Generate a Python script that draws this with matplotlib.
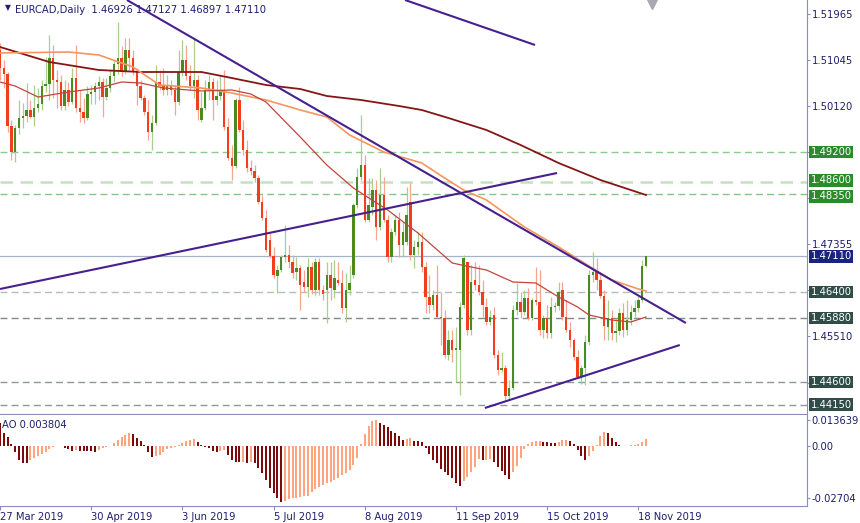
import numpy as np
import matplotlib
matplotlib.use("Agg")
import matplotlib.pyplot as plt


# ============================================================
# 1.  Data
# ============================================================
title_text = "EURCAD,Daily  1.46926 1.47127 1.46897 1.47110"
ao_text    = "AO 0.003804"

date_labels     = ["27 Mar 2019", "30 Apr 2019", "3 Jun 2019", "5 Jul 2019",
                   "8 Aug 2019", "11 Sep 2019", "15 Oct 2019", "18 Nov 2019"]
date_label_bars = [0, 24, 48, 72, 96, 120, 144, 168]

opens = [
    1.5124, 1.5088, 1.5076, 1.4972, 1.4920, 1.4968, 1.4988, 1.4992, 1.5004, 1.4990,
    1.5008, 1.5016, 1.5052, 1.5056, 1.5108, 1.5064, 1.5060, 1.5012, 1.5044, 1.5020,
    1.5068, 1.5008, 1.5000, 1.4988, 1.5036, 1.5040, 1.5052, 1.5060, 1.5030, 1.5048,
    1.5072, 1.5096, 1.5108, 1.5080, 1.5124, 1.5108, 1.5080, 1.5052, 1.5028, 1.5000,
    1.4960, 1.4978, 1.5060, 1.5052, 1.5044, 1.5052, 1.5044, 1.5020, 1.5080, 1.5104,
    1.5072, 1.5052, 1.5064, 1.4984, 1.5008, 1.5044, 1.5060, 1.5024, 1.5032, 1.5044,
    1.4970, 1.4908, 1.4892, 1.5024, 1.4964, 1.4924, 1.4888, 1.4882, 1.4868, 1.4820,
    1.4788, 1.4744, 1.4712, 1.4672, 1.4684, 1.4710, 1.4714, 1.4700, 1.4680, 1.4688,
    1.4660, 1.4650, 1.4690, 1.4644, 1.4700, 1.4644, 1.4644, 1.4674, 1.4644, 1.4664,
    1.4658, 1.4608, 1.4644, 1.4674, 1.4814, 1.4870, 1.4894, 1.4784, 1.4810, 1.4844,
    1.4770, 1.4834, 1.4784, 1.4710, 1.4760, 1.4784, 1.4734, 1.4740, 1.4820, 1.4714,
    1.4730, 1.4740, 1.4690, 1.4630, 1.4614, 1.4634, 1.4590, 1.4588, 1.4514, 1.4544,
    1.4524, 1.4524, 1.4614, 1.4700, 1.4564, 1.4664, 1.4654, 1.4640, 1.4610, 1.4580,
    1.4594, 1.4514, 1.4484, 1.4488, 1.4432, 1.4448, 1.4604, 1.4620, 1.4600, 1.4628,
    1.4588, 1.4624, 1.4620, 1.4564, 1.4588, 1.4558, 1.4610, 1.4612, 1.4644, 1.4590,
    1.4564, 1.4544, 1.4510, 1.4470, 1.4488, 1.4540, 1.4674, 1.4680, 1.4664, 1.4632,
    1.4570, 1.4588, 1.4558, 1.4562, 1.4598, 1.4564, 1.4584, 1.4600, 1.4608, 1.4624,
    1.46926,
]
highs = [
    1.5138, 1.5104, 1.5080, 1.4984, 1.4974, 1.5024, 1.5018, 1.5058, 1.5024, 1.5054,
    1.5048, 1.5064, 1.5110, 1.5154, 1.5134, 1.5084, 1.5074, 1.5064, 1.5060, 1.5088,
    1.5134, 1.5044, 1.5028, 1.5052, 1.5054, 1.5060, 1.5072, 1.5068, 1.5068, 1.5084,
    1.5104, 1.5180, 1.5132, 1.5148, 1.5148, 1.5124, 1.5088, 1.5064, 1.5034, 1.5024,
    1.4994, 1.5094, 1.5084, 1.5088, 1.5074, 1.5064, 1.5054, 1.5124, 1.5144, 1.5134,
    1.5094, 1.5148, 1.5074, 1.5040, 1.5064, 1.5074, 1.5068, 1.5064, 1.5074, 1.5084,
    1.4988, 1.4934, 1.5028, 1.5050, 1.4984, 1.4944, 1.4904, 1.4894, 1.4874, 1.4834,
    1.4804, 1.4758, 1.4730, 1.4694, 1.4714, 1.4774, 1.4734, 1.4714, 1.4710, 1.4694,
    1.4684, 1.4708, 1.4700, 1.4708, 1.4708, 1.4654, 1.4700, 1.4700, 1.4704, 1.4700,
    1.4684, 1.4678, 1.4694, 1.4818, 1.4888, 1.4994, 1.4914, 1.4868, 1.4868, 1.4864,
    1.4888, 1.4870, 1.4794, 1.4768, 1.4794, 1.4800, 1.4780, 1.4850, 1.4858, 1.4744,
    1.4760, 1.4760, 1.4700, 1.4674, 1.4644, 1.4694, 1.4640, 1.4604, 1.4564, 1.4564,
    1.4570, 1.4620, 1.4714, 1.4700, 1.4694, 1.4700, 1.4694, 1.4664, 1.4628, 1.4604,
    1.4610, 1.4524, 1.4520, 1.4494, 1.4464, 1.4614, 1.4658, 1.4640, 1.4644, 1.4648,
    1.4628, 1.4690, 1.4684, 1.4594, 1.4614, 1.4630, 1.4620, 1.4660, 1.4660, 1.4624,
    1.4580, 1.4548, 1.4524, 1.4494, 1.4554, 1.4684, 1.4720, 1.4708, 1.4680, 1.4644,
    1.4624, 1.4604, 1.4588, 1.4608, 1.4618, 1.4624, 1.4614, 1.4624, 1.4632, 1.4704,
    1.47127,
]
lows = [
    1.5064, 1.5048, 1.4960, 1.4904, 1.4900, 1.4956, 1.4968, 1.4980, 1.4988, 1.4972,
    1.5000, 1.5004, 1.5040, 1.5024, 1.5028, 1.5008, 1.5004, 1.5004, 1.5012, 1.5016,
    1.5000, 1.4980, 1.4978, 1.4984, 1.5016, 1.5016, 1.5024, 1.4990, 1.5024, 1.5040,
    1.5060, 1.5076, 1.5072, 1.5076, 1.5084, 1.5074, 1.5014, 1.5024, 1.4994, 1.4944,
    1.4924, 1.4974, 1.5044, 1.5034, 1.5034, 1.5034, 1.4994, 1.5014, 1.5072, 1.5064,
    1.5044, 1.5028, 1.4984, 1.4980, 1.5004, 1.5024, 1.4984, 1.5014, 1.5024, 1.4964,
    1.4904, 1.4864, 1.4888, 1.4960, 1.4914, 1.4880, 1.4874, 1.4860, 1.4816, 1.4784,
    1.4720, 1.4708, 1.4668, 1.4638, 1.4680, 1.4700, 1.4688, 1.4668, 1.4664, 1.4604,
    1.4640, 1.4630, 1.4636, 1.4634, 1.4634, 1.4624, 1.4578, 1.4624, 1.4628, 1.4654,
    1.4598, 1.4580, 1.4634, 1.4668, 1.4808, 1.4864, 1.4780, 1.4780, 1.4794, 1.4744,
    1.4764, 1.4780, 1.4700, 1.4700, 1.4754, 1.4710, 1.4710, 1.4734, 1.4704, 1.4688,
    1.4714, 1.4680, 1.4598, 1.4598, 1.4604, 1.4588, 1.4534, 1.4508, 1.4504, 1.4500,
    1.4460, 1.4434, 1.4608, 1.4554, 1.4554, 1.4644, 1.4634, 1.4590, 1.4574, 1.4574,
    1.4508, 1.4474, 1.4480, 1.4424, 1.4424, 1.4444, 1.4594, 1.4588, 1.4594, 1.4584,
    1.4584, 1.4614, 1.4554, 1.4548, 1.4548, 1.4548, 1.4600, 1.4604, 1.4584, 1.4560,
    1.4530, 1.4504, 1.4468, 1.4456, 1.4454, 1.4534, 1.4660, 1.4644, 1.4628, 1.4544,
    1.4544, 1.4544, 1.4540, 1.4554, 1.4550, 1.4554, 1.4574, 1.4588, 1.4600, 1.4620,
    1.46897,
]
closes = [
    1.5088, 1.5076, 1.4972, 1.4920, 1.4968, 1.4988, 1.4992, 1.5004, 1.4990, 1.5008,
    1.5016, 1.5052, 1.5056, 1.5108, 1.5064, 1.5060, 1.5012, 1.5044, 1.5020, 1.5068,
    1.5008, 1.5000, 1.4988, 1.5036, 1.5040, 1.5052, 1.5060, 1.5030, 1.5048, 1.5072,
    1.5096, 1.5108, 1.5080, 1.5124, 1.5108, 1.5080, 1.5052, 1.5028, 1.5000, 1.4960,
    1.4978, 1.5060, 1.5052, 1.5044, 1.5052, 1.5044, 1.5020, 1.5080, 1.5104, 1.5072,
    1.5052, 1.5064, 1.5004, 1.5008, 1.5044, 1.5060, 1.5024, 1.5032, 1.5044, 1.4970,
    1.4908, 1.4892, 1.5024, 1.4964, 1.4924, 1.4888, 1.4882, 1.4868, 1.4820, 1.4788,
    1.4724, 1.4712, 1.4674, 1.4684, 1.4710, 1.4714, 1.4700, 1.4678, 1.4688, 1.4654,
    1.4650, 1.4690, 1.4644, 1.4700, 1.4644, 1.4636, 1.4674, 1.4648, 1.4668, 1.4658,
    1.4608, 1.4644, 1.4658, 1.4814, 1.4870, 1.4894, 1.4784, 1.4814, 1.4844, 1.4770,
    1.4834, 1.4784, 1.4710, 1.4760, 1.4784, 1.4734, 1.4760, 1.4794, 1.4714, 1.4730,
    1.4740, 1.4690, 1.4630, 1.4614, 1.4634, 1.4590, 1.4588, 1.4514, 1.4544, 1.4524,
    1.4528, 1.4610, 1.4708, 1.4564, 1.4660, 1.4654, 1.4640, 1.4614, 1.4580, 1.4590,
    1.4514, 1.4484, 1.4488, 1.4432, 1.4448, 1.4604, 1.4620, 1.4600, 1.4628, 1.4588,
    1.4624, 1.4620, 1.4564, 1.4588, 1.4558, 1.4610, 1.4612, 1.4640, 1.4590, 1.4564,
    1.4544, 1.4510, 1.4470, 1.4488, 1.4540, 1.4674, 1.4680, 1.4664, 1.4632, 1.4572,
    1.4588, 1.4558, 1.4562, 1.4598, 1.4564, 1.4584, 1.4600, 1.4608, 1.4624, 1.4692,
    1.47110,
]

ao_values = [
    0.0118, 0.0066, 0.0048, 0.0009, -0.0029, -0.0073, -0.0087, -0.0090, -0.0073, -0.0060,
    -0.0052, -0.0043, -0.0030, -0.0016, -0.0005, 0.0001, 0.0002, -0.0009, -0.0017, -0.0026,
    -0.0021, -0.0024, -0.0026, -0.0027, -0.0028, -0.0029, -0.0021, -0.0012, -0.0007, 0.0002,
    0.0014, 0.0031, 0.0048, 0.0057, 0.0066, 0.0065, 0.0040, 0.0026, 0.0005, -0.0029,
    -0.0055, -0.0054, -0.0047, -0.0029, -0.0016, -0.0009, -0.0003, 0.0005, 0.0017, 0.0028,
    0.0031, 0.0036, 0.0022, 0.0005, -0.0003, -0.0012, -0.0024, -0.0030, -0.0026, -0.0021,
    -0.0047, -0.0073, -0.0081, -0.0085, -0.0081, -0.0090, -0.0081, -0.0090, -0.0116, -0.0142,
    -0.0177, -0.0220, -0.0246, -0.0272, -0.0293, -0.0286, -0.0276, -0.0272, -0.0269, -0.0263,
    -0.0262, -0.0258, -0.0237, -0.0224, -0.0211, -0.0203, -0.0194, -0.0185, -0.0177, -0.0168,
    -0.0151, -0.0142, -0.0125, -0.0099, -0.0061, 0.0009, 0.0061, 0.0104, 0.0130, 0.0135,
    0.0118, 0.0109, 0.0097, 0.0080, 0.0069, 0.0052, 0.0031, 0.0035, 0.0040, 0.0028,
    0.0026, 0.0021, -0.0009, -0.0043, -0.0073, -0.0090, -0.0120, -0.0133, -0.0151, -0.0168,
    -0.0194, -0.0206, -0.0182, -0.0160, -0.0137, -0.0107, -0.0069, -0.0073, -0.0072, -0.0068,
    -0.0085, -0.0107, -0.0130, -0.0151, -0.0172, -0.0137, -0.0102, -0.0061, -0.0017, 0.0009,
    0.0023, 0.0026, 0.0028, 0.0023, 0.0019, 0.0017, 0.0014, 0.0022, 0.0029, 0.0030,
    0.0024, 0.0009, -0.0021, -0.0052, -0.0071, -0.0054, -0.0026, 0.0007, 0.0052, 0.0071,
    0.0069, 0.0043, 0.0021, 0.0005, 0.0002, -0.0001, 0.0003, 0.0005, 0.0009, 0.0019,
    0.003804,
]

# moving averages, sampled at a few bars
ma_slow_bars = [0, 13, 26, 37, 53, 61, 70, 79, 86, 95, 105, 111, 118, 128, 137, 147, 158, 170]
ma_slow      = [1.5130, 1.5100, 1.5084, 1.5080, 1.5080, 1.5068, 1.5054, 1.5046, 1.5032,
                1.5024, 1.5012, 1.5004, 1.4988, 1.4964, 1.4934, 1.4898, 1.4864, 1.4834]

ma_mid_bars = [0, 18, 26, 35, 42, 53, 61, 70, 79, 86, 92, 101, 111, 117, 122, 128,
               138, 147, 155, 161, 168, 170]
ma_mid      = [1.5118, 1.5120, 1.5114, 1.5090, 1.5054, 1.5048, 1.5038, 1.5024, 1.5004,
               1.4990, 1.4954, 1.4920, 1.4898, 1.4868, 1.4844, 1.4824, 1.4770, 1.4730,
               1.4692, 1.4664, 1.4646, 1.4642]

ma_fast_bars = [0, 4, 10, 18, 26, 32, 37, 43, 53, 61, 66, 70, 79, 86, 93, 102, 110,
                119, 124, 128, 135, 141, 147, 152, 155, 161, 166, 170]
ma_fast      = [1.5060, 1.5052, 1.5030, 1.5040, 1.5048, 1.5060, 1.5058, 1.5048, 1.5042,
                1.5044, 1.5036, 1.5020, 1.4950, 1.4894, 1.4848, 1.4804, 1.4758, 1.4698,
                1.4690, 1.4684, 1.4660, 1.4658, 1.4630, 1.4610, 1.4594, 1.4584, 1.4580,
                1.4590]

# hand-drawn trend lines (start bar, end bar), (start price, end price)
trend_bars   = [(33.4, 180.5), (106.6, 140.8), (0.0, 146.6), (127.6, 178.9)]
trend_prices = [(1.5224, 1.4578), (1.5224, 1.5134), (1.4646, 1.4878), (1.4408, 1.4534)]

green_levels = [1.49200, 1.48600, 1.48350]
gray_levels  = [1.46400, 1.45880, 1.44600, 1.44150]
last_price   = 1.47110

price_ticks       = [1.51965, 1.51045, 1.50120, 1.49200, 1.48280, 1.47355, 1.46435, 1.45510, 1.44590]
price_tick_labels = ["1.51965", "1.51045", "1.50120", "1.49200", "", "1.47355", "1.46435",
                     "1.45510", "1.44590"]   # 1.48280 sits fully under the level boxes
ao_ticks       = [0.013639, 0.0, -0.02704]
ao_tick_labels = ["0.013639", "0.00", "-0.02704"]


# ============================================================
# 2.  Style
# ============================================================
plt.rcParams['font.family'] = ['DejaVu Sans']
plt.rcParams['font.size']   = 7.2

TXT      = '#1e1e6e'
SPINE    = '#8c8cbc'
BODY_UP  = '#4a8b1f'
BODY_DN  = '#f23e1c'
WICK_UP  = '#a8cf8e'
WICK_DN  = '#f7a592'
AO_UP    = '#ffa47c'
AO_DN    = '#7d0a0a'
TREND    = '#46208e'

W, H = 860, 523
fig = plt.figure(figsize=(W / 100, H / 100), dpi=100)
ax    = fig.add_axes([0, 109.5 / H, 807 / W, 413.5 / H])
ax_ao = fig.add_axes([0, 17 / H, 807 / W, 91.5 / H])

x_max = 807 / 3.8
idx = np.arange(len(closes))


# ============================================================
# 3.  Price panel
# ============================================================
o = np.array(opens); h = np.array(highs); l = np.array(lows); c = np.array(closes)
up = c >= o
body_low = np.minimum(o, c)
body_h   = np.maximum(np.abs(c - o), 0.00007)

ax.vlines(idx[up],  l[up],  h[up],  color=WICK_UP, lw=0.9, zorder=2)
ax.vlines(idx[~up], l[~up], h[~up], color=WICK_DN, lw=0.9, zorder=2)
ax.bar(idx[up],  body_h[up],  bottom=body_low[up],  width=0.62, color=BODY_UP, lw=0, zorder=3)
ax.bar(idx[~up], body_h[~up], bottom=body_low[~up], width=0.62, color=BODY_DN, lw=0, zorder=3)

# levels
green_styles = [('#8ccb8c', 1.0), ('#c4e2c0', 1.8), ('#86c486', 1.0)]
for lvl, (col, lw) in zip(green_levels, green_styles):
    ax.axhline(lvl, color=col, lw=lw, dashes=(5, 3), zorder=1)
gray_styles = ['#b4bcb8', '#7c8c86', '#8c9a95', '#8c9a95']
for lvl, col in zip(gray_levels, gray_styles):
    ax.axhline(lvl, color=col, lw=1.0, dashes=(5, 3), zorder=1)
ax.axhline(last_price, color='#a6b2c8', lw=0.9, zorder=1)

# moving averages
ax.plot(ma_slow_bars, ma_slow, color='#861616', lw=1.3, zorder=4)
ax.plot(ma_mid_bars,  ma_mid,  color='#f7955f', lw=1.2, zorder=4)
ax.plot(ma_fast_bars, ma_fast, color='#c0463c', lw=0.9, zorder=4)

# trend lines
for bars, prices in zip(trend_bars, trend_prices):
    ax.plot(bars, prices, color=TREND, lw=1.5, zorder=5, solid_capstyle='butt')

ax.set_xlim(0, x_max)
ax.set_ylim(1.5224 - 0.0002 * 413.5, 1.5224)

ax.yaxis.tick_right()
ax.set_yticks(price_ticks)
ax.set_yticklabels(price_tick_labels, color=TXT)
ax.tick_params(axis='y', direction='out', length=2, pad=1.5, colors=SPINE, labelcolor=TXT)
ax.set_xticks([])
for side in ['left', 'top']:
    ax.spines[side].set_visible(False)
for side in ['right', 'bottom']:
    ax.spines[side].set_color(SPINE)

# price boxes on the right scale
def price_box(value, face, nudge=0.0):
    ax.annotate(f"{value:.5f}", xy=(1.0045, value), xycoords=('axes fraction', 'data'),
                xytext=(0, nudge), textcoords='offset points',
                ha='left', va='center', color='white', zorder=10, annotation_clip=False,
                bbox=dict(boxstyle='square,pad=0.14', fc=face, ec='none'))

green_nudges = [0.0, 1.3, -1.3]
for lvl, nd in zip(green_levels, green_nudges):
    price_box(lvl, '#2b8a2b', nd)
for lvl in gray_levels:
    price_box(lvl, '#2f4d46')
price_box(last_price, '#1a237e')

# header
ax.text(0.006, 1 - 8 / 413.5, "\u25bc", transform=ax.transAxes, fontsize=5.5,
        color=TXT, ha='left', va='center')
ax.text(15 / 807, 1 - 10 / 413.5, title_text, transform=ax.transAxes,
        color=TXT, ha='left', va='center')
ax.plot([652 / 807], [1 - 3 / 413.5], marker='v', ms=8, color='#a8a8b2',
        transform=ax.transAxes, clip_on=False, zorder=6)


# ============================================================
# 4.  Awesome Oscillator panel
# ============================================================
ao = np.array(ao_values)
ao_up = np.zeros(len(ao), dtype=bool)
ao_up[1:] = ao[1:] > ao[:-1]
ax_ao.bar(idx[ao_up],  ao[ao_up],  width=0.55, color=AO_UP, lw=0)
ax_ao.bar(idx[~ao_up], ao[~ao_up], width=0.55, color=AO_DN, lw=0)

ax_ao.set_xlim(0, x_max)
ax_ao.set_ylim(-0.0312, 0.01638)
ax_ao.yaxis.tick_right()
ax_ao.set_yticks(ao_ticks)
ax_ao.set_yticklabels(ao_tick_labels)
ax_ao.tick_params(axis='y', direction='out', length=2, pad=1.5, colors=SPINE, labelcolor=TXT)

ax_ao.set_xticks(date_label_bars)
ax_ao.set_xticklabels(date_labels, ha='left')
ax_ao.tick_params(axis='x', direction='out', length=3, pad=1.5, colors=SPINE, labelcolor=TXT)

for side in ['left', 'top']:
    ax_ao.spines[side].set_visible(False)
for side in ['right', 'bottom']:
    ax_ao.spines[side].set_color(SPINE)

ax_ao.text(2 / 807, 1 - 10 / 91.5, ao_text, transform=ax_ao.transAxes,
           color=TXT, ha='left', va='center')

fig.savefig("out.png", dpi=100)
